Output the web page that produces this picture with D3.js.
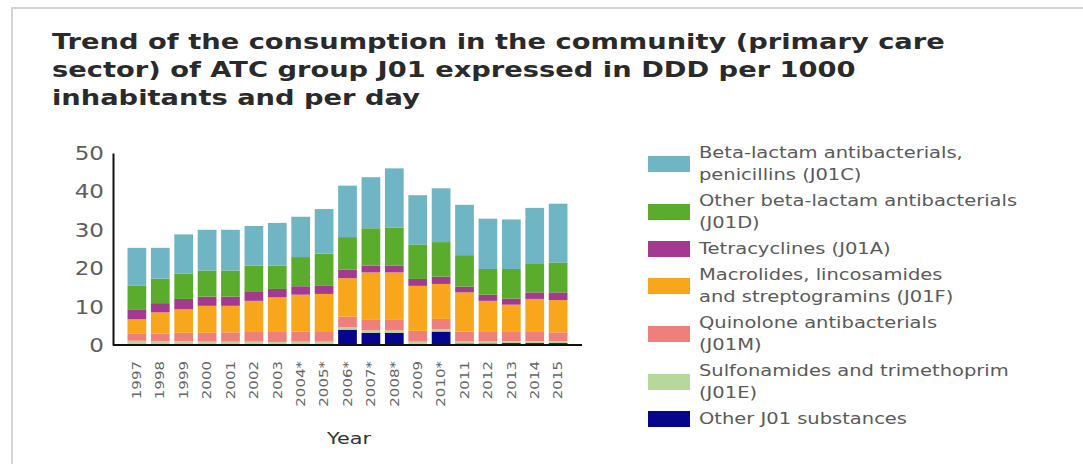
<!DOCTYPE html>
<html>
<head>
<meta charset="utf-8">
<script src="https://cdn.jsdelivr.net/npm/d3@7"></script>
<style>
  html, body { margin: 0; padding: 0; background: #fff; }
  svg { display: block; }
</style>
</head>
<body>
<svg id="chart" width="1083" height="464"></svg>
<script>
// Years (asterisk marks years with a methodological note)
const years = ["1997","1998","1999","2000","2001","2002","2003","2004*","2005*","2006*",
               "2007*","2008*","2009","2010*","2011","2012","2013","2014","2015"];

// DDD per 1000 inhabitants per day, by ATC subgroup (stacked bottom to top)
const otherJ01 = [0.1,0.1,0.1,0.1,0.1,0.1,0.1,0.2,0.2,4.0,3.2,3.2,0.3,3.5,0.4,0.4,0.5,0.5,0.5];
const j01E     = [1.0,0.9,0.9,0.8,0.8,0.8,0.7,0.7,0.7,0.6,0.6,0.6,0.6,0.6,0.5,0.5,0.5,0.5,0.5];
const j01M     = [1.8,2.0,2.2,2.3,2.4,2.5,2.6,2.6,2.7,2.8,2.9,2.9,2.8,2.7,2.6,2.5,2.4,2.4,2.3];
const j01F     = [3.8,5.5,6.1,7.0,6.9,8.1,9.0,9.6,9.7,10.0,12.2,12.2,11.7,9.1,10.2,8.1,7.1,8.6,8.4];
const j01A     = [2.6,2.4,2.7,2.4,2.4,2.5,2.2,2.2,2.1,2.2,1.8,1.8,1.8,1.9,1.5,1.6,1.6,1.7,2.0];
const j01D     = [6.1,6.4,6.6,6.8,6.8,6.7,6.1,7.6,8.4,8.5,9.7,9.9,9.0,9.0,8.2,6.7,7.7,7.4,7.8];
const j01C     = [9.9,8.0,10.2,10.6,10.6,10.3,11.1,10.5,11.6,13.4,13.3,15.4,12.8,14.0,13.1,13.1,12.9,14.6,15.3];

const yTicks = [0, 10, 20, 30, 40, 50];

// Series in stacking order (bottom first)
const series = [
  { key: "other", values: otherJ01, color: "#06068c", label: ["Other J01 substances"] },
  { key: "j01E",  values: j01E,     color: "#b6d89b", label: ["Sulfonamides and trimethoprim", "(J01E)"] },
  { key: "j01M",  values: j01M,     color: "#ef7f7b", label: ["Quinolone antibacterials", "(J01M)"] },
  { key: "j01F",  values: j01F,     color: "#f8a71c", label: ["Macrolides, lincosamides", "and streptogramins (J01F)"] },
  { key: "j01A",  values: j01A,     color: "#a33a8f", label: ["Tetracyclines (J01A)"] },
  { key: "j01D",  values: j01D,     color: "#5bab2d", label: ["Other beta-lactam antibacterials", "(J01D)"] },
  { key: "j01C",  values: j01C,     color: "#70b5c3", label: ["Beta-lactam antibacterials,", "penicillins (J01C)"] }
];

const rows = years.map((y, i) => {
  const r = { year: y };
  series.forEach(s => { r[s.key] = s.values[i]; });
  return r;
});

const svg = d3.select("#chart");
const font = "Verdana, 'DejaVu Sans', sans-serif";
const wide = 1.3; // horizontal stretch applied to the text

// Panel frame
svg.append("path")
  .attr("d", "M12,464 V8 H1083")
  .attr("fill", "none")
  .attr("stroke", "#d4d4d4")
  .attr("stroke-width", 2);

// Title
const titleLines = [
  "Trend of the consumption in the community (primary care",
  "sector) of ATC group J01 expressed in DDD per 1000",
  "inhabitants and per day"
];
svg.append("g").selectAll("text")
  .data(titleLines)
  .join("text")
  .attr("transform", (d, i) => `translate(52,${49 + i * 28}) scale(${wide},1)`)
  .attr("font-family", font)
  .attr("font-weight", "bold")
  .attr("font-size", 21)
  .attr("fill", "#2a2a2a")
  .text(d => d);

// Scales
const x = d3.scaleBand()
  .domain(years)
  .range([113, 582])
  .paddingInner(0.2)
  .paddingOuter(0.62);

const y = d3.scaleLinear()
  .domain([0, 50])
  .range([345, 153]);

// Stacked bars
const stack = d3.stack().keys(series.map(s => s.key));
const layers = stack(rows);

svg.append("g").selectAll("g")
  .data(layers)
  .join("g")
  .attr("fill", (d, i) => series[i].color)
  .selectAll("rect")
  .data(d => d)
  .join("rect")
  .attr("x", d => x(d.data.year))
  .attr("width", x.bandwidth())
  .attr("y", d => y(d[1]))
  .attr("height", d => y(d[0]) - y(d[1]));

// Y axis
const yAxis = svg.append("g")
  .attr("transform", "translate(113,0)")
  .call(d3.axisLeft(y).tickValues(yTicks).tickSize(0).tickPadding(0));
yAxis.select(".domain").attr("stroke", "#111").attr("stroke-width", 2);
yAxis.selectAll(".tick text")
  .attr("font-family", font)
  .attr("font-size", 20)
  .attr("fill", "#5e5e5e")
  .attr("x", 0)
  .attr("transform", "translate(-9,0) scale(1.15,1)");

// X axis
const xAxis = svg.append("g")
  .attr("transform", "translate(0,345)")
  .call(d3.axisBottom(x).tickSize(0).tickPadding(0));
xAxis.select(".domain")
  .attr("d", "M113,0H582")
  .attr("stroke", "#111")
  .attr("stroke-width", 2);
xAxis.selectAll("text")
  .attr("font-family", font)
  .attr("font-size", 15)
  .attr("fill", "#666")
  .attr("text-anchor", "end")
  .attr("dy", "0.35em")
  .attr("transform", "translate(0,16) rotate(-90) scale(1,0.8)")
  .attr("x", 0)
  .attr("y", 0);

// X axis title
svg.append("text")
  .attr("transform", `translate(349,444) scale(${wide},1)`)
  .attr("text-anchor", "middle")
  .attr("font-family", font)
  .attr("font-size", 16)
  .attr("fill", "#333")
  .text("Year");

// Legend (top entry is the top of the stack)
const legendItems = series.slice().reverse();
const lineH = 22, itemGap = 4;
let cursor = 153;
const legend = svg.append("g");
legendItems.forEach(s => {
  const n = s.label.length;
  const centre = cursor + (n - 1) * lineH / 2;
  legend.append("rect")
    .attr("x", 648)
    .attr("y", centre - 8)
    .attr("width", 42)
    .attr("height", 16)
    .attr("fill", s.color);
  s.label.forEach((t, j) => {
    legend.append("text")
      .attr("transform", `translate(699,${cursor + j * lineH}) scale(${wide},1)`)
      .attr("dy", "0.35em")
      .attr("font-family", font)
      .attr("font-size", 15)
      .attr("fill", "#5a5a5a")
      .text(t);
  });
  cursor += n * lineH + itemGap;
});
</script>
</body>
</html>
